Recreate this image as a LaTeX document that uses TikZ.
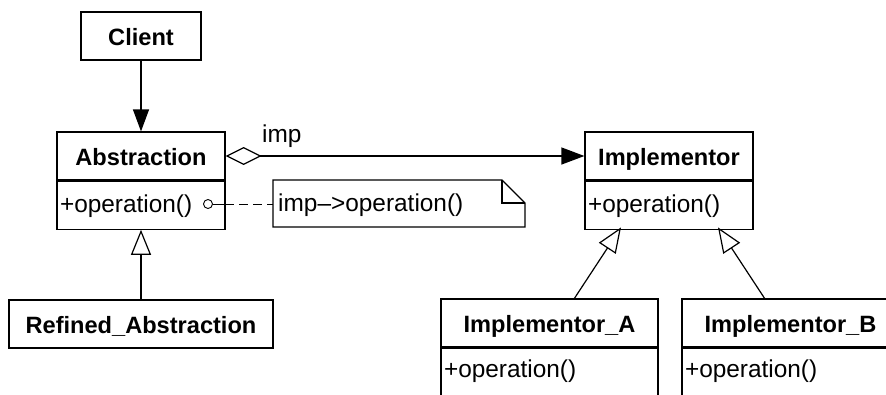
\documentclass[tikz,border=0pt]{standalone}
\usepackage{fontspec}
\setmainfont{Liberation Sans}
\usetikzlibrary{arrows.meta,shapes.geometric}
\tikzset{
  lw/.style={line width=1.2pt},
  cls/.style={draw, lw, rectangle, inner sep=0pt, minimum height=48pt,
    font=\fontsize{23.6pt}{28pt}\selectfont\bfseries, text height=19pt, text depth=0pt},
  ops/.style={draw, lw, rectangle, inner xsep=3pt, inner ysep=0pt, minimum height=48pt,
    font=\fontsize{24.4pt}{28pt}\selectfont, text height=14pt, text depth=0pt, align=left},
  lbl/.style={inner sep=0pt, font=\fontsize{24.4pt}{28pt}\selectfont},
  assoc/.style={lw, -{Triangle[length=22pt,width=16pt]}},
  aggr/.style={lw, {Diamond[open,length=36pt,width=18pt]}-{Triangle[length=23pt,width=17pt]}},
  gen/.style={lw, -{Triangle[open,length=25pt,width=20pt]}},
  notelink/.style={line width=0.9pt, dash pattern=on 9pt off 5pt},
}
\begin{document}
\begin{tikzpicture}[x=1pt,y=-1pt]
\useasboundingbox (0,0) rectangle (886,394);
\clip (0,0) rectangle (886,394);

% Client
\node[cls, minimum width=120pt] (client) at (141,36) {Client};

% Abstraction
\node[cls, minimum width=168pt] (abs) at (141,156) {Abstraction};
\node[ops, minimum width=168pt, text width=162pt, anchor=north] (absop) at (abs.south) {+operation()};

% Refined_Abstraction
\node[cls, minimum width=264pt] (refined) at (141,324) {Refined\_Abstraction};

% Implementor
\node[cls, minimum width=168pt] (impl) at (669,156) {Implementor};
\node[ops, minimum width=168pt, text width=162pt, anchor=north] (implop) at (impl.south) {+operation()};

% Implementor_A
\node[cls, minimum width=217pt] (implA) at (549.5,323) {Implementor\_A};
\node[ops, minimum width=217pt, text width=211pt, minimum height=60pt, anchor=north] (implAop) at (implA.south) {\raisebox{8pt}{+operation()}};

% Implementor_B
\node[cls, minimum width=217pt] (implB) at (790.5,323) {Implementor\_B};
\node[ops, minimum width=217pt, text width=211pt, minimum height=60pt, anchor=north] (implBop) at (implB.south) {\raisebox{8pt}{+operation()}};

% Note
\coordinate (nA) at (273,180);
\coordinate (nB) at (502,180);
\coordinate (nC) at (525,203);
\coordinate (nD) at (525,227);
\coordinate (nE) at (273,227);
\draw[lw] (nA) -- (nB) -- (nC) -- (nD) -- (nE) -- cycle;
\draw[lw] (nB) -- (502,203) -- (nC);
\node[lbl, anchor=base west] (notetext) at (278,211) {imp–>operation()};
\coordinate (noteleft) at (273,204);

% note link with circle
\node[draw, line width=0.9pt, circle, minimum size=9pt, inner sep=0pt] (circ) at (208,204) {};
\coordinate (absedge) at (225,204);
\draw[line width=0.9pt] (circ.east) -- (absedge);
\draw[notelink] (absedge) -- (noteleft);

% connectors
\draw[assoc] (client.south) -- (abs.north);
\draw[aggr] (abs.east) -- (impl.west);
\node[lbl, anchor=base west] (implabel) at (262,142) {imp};
\draw[gen] (refined.north) -- (absop.south);

\coordinate (aFrom) at (574,299);
\coordinate (aTo) at (621,227.4);
\coordinate (bFrom) at (765,299);
\coordinate (bTo) at (718,227.4);
\draw[gen] (aFrom) -- (aTo);
\draw[gen] (bFrom) -- (bTo);
\end{tikzpicture}
\end{document}
